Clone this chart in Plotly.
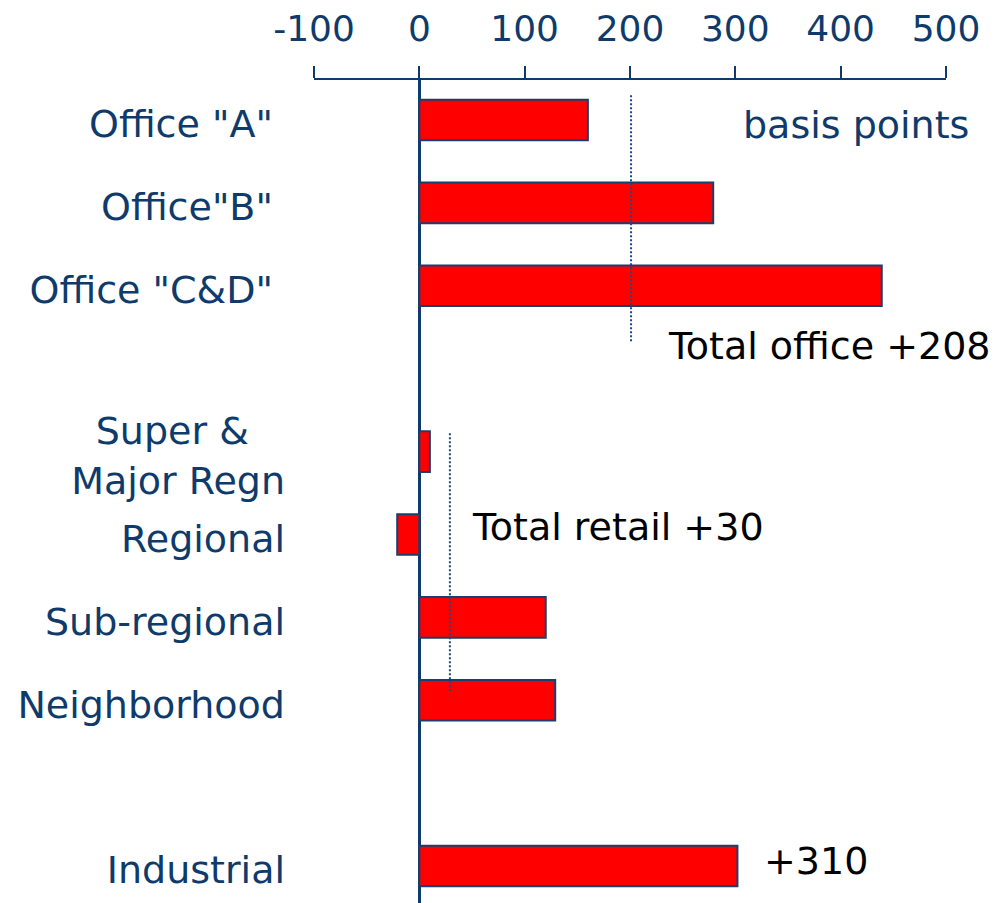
import plotly.graph_objects as go

NB = "\u00a0"
categories = ['Office "A"' + NB, 'Office"B"' + NB, 'Office "C&D"' + NB,
              "Super &" + NB * 3 + "<br>Major Regn", "Regional", "Sub-regional",
              "Neighborhood", "Industrial"]
values = [160, 279, 439, 10, -21, 120, 129, 302]
category_order = [categories[0], categories[1], categories[2], " ",
                  categories[3], categories[4], categories[5], categories[6],
                  "  ", categories[7]]
x_tickvals = [-100, 0, 100, 200, 300, 400, 500]
x_ticktext = ["-100", "0", "100", "200", "300", "400", "500"]
office_total = 201
retail_total = 29

DARK = "#0E3B6B"
FONT = "DejaVu Sans"
LBL = 38

fig = go.Figure()
fig.add_trace(go.Bar(
    y=categories, x=values, orientation="h", width=0.49,
    marker=dict(color="#FF0000", line=dict(color="#1A3F6E", width=2)),
    showlegend=False, hoverinfo="skip",
))

fig.add_shape(type="line", xref="x", yref="y", x0=office_total, x1=office_total,
              y0=-0.30, y1=2.69, line=dict(color="#1A4A80", width=2, dash="2px,2px"))
fig.add_shape(type="line", xref="x", yref="y", x0=retail_total, x1=retail_total,
              y0=3.78, y1=6.89, line=dict(color="#1A4A80", width=2, dash="2px,2px"))

fig.add_annotation(text="basis points", xref="paper", yref="y", x=1.04, y=0.06,
                   xanchor="right", yanchor="middle", showarrow=False,
                   font=dict(family=FONT, size=LBL, color=DARK))
fig.add_annotation(text="Total office +208", xref="x", yref="y", x=234, y=2.73,
                   xanchor="left", yanchor="middle", showarrow=False,
                   font=dict(family=FONT, size=LBL, color="#000000"))
fig.add_annotation(text="Total retail +30", xref="x", yref="y", x=48, y=4.91,
                   xanchor="left", yanchor="middle", showarrow=False,
                   font=dict(family=FONT, size=LBL, color="#000000"))
fig.add_annotation(text="+310", xref="x", yref="y", x=325, y=8.94,
                   xanchor="left", yanchor="middle", showarrow=False,
                   font=dict(family=FONT, size=LBL, color="#000000"))

fig.update_layout(
    width=1000, height=895,
    margin=dict(l=306, r=62, t=72, b=0),
    paper_bgcolor="white", plot_bgcolor="white",
    font=dict(family=FONT, size=LBL, color=DARK),
    bargap=0.5,
)
fig.update_xaxes(
    side="top", range=[-100, 500], tickvals=x_tickvals, ticktext=x_ticktext,
    ticks="outside", ticklen=12, tickwidth=2, tickcolor=DARK,
    showline=True, linecolor=DARK, linewidth=2, showgrid=False,
    zeroline=True, zerolinecolor=DARK, zerolinewidth=3,
    tickfont=dict(family=FONT, size=36, color=DARK), ticklabelstandoff=11,
)
fig.update_yaxes(
    type="category", categoryorder="array", categoryarray=category_order,
    range=[9.446, -0.483], autorange=False, showgrid=False, showline=False,
    zeroline=False, ticks="", ticklabelstandoff=28, ticklabelshift=-4,
    tickfont=dict(family=FONT, size=LBL, color=DARK),
)

fig.write_html("out.html")
